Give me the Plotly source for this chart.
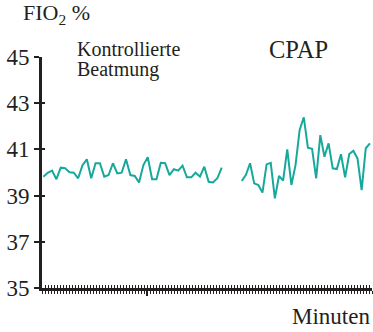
import numpy as np
import plotly.graph_objects as go

# Data (FIO2 % over minutes)
seg1_values = [39.82, 39.99, 40.08, 39.71, 40.21, 40.19, 40.01, 39.99, 39.75, 40.32,
               40.57, 39.75, 40.40, 40.40, 39.82, 39.89, 40.40, 39.96, 39.99, 40.57,
               39.89, 39.85, 39.57, 40.32, 40.66, 39.71, 39.71, 40.42, 40.40, 39.89,
               40.14, 40.08, 40.30, 39.79, 39.79, 39.99, 39.82, 40.25, 39.60, 39.57,
               39.75, 40.21]
seg2_values = [39.63, 39.90, 40.40, 39.53, 39.46, 39.13, 40.35, 40.42, 38.88, 39.85,
               39.65, 41.00, 39.46, 40.32, 41.84, 42.39, 41.07, 41.03, 39.75, 41.62,
               40.68, 41.26, 40.18, 40.15, 40.79, 39.79, 40.80, 40.94, 40.61, 39.24,
               41.05, 41.26]
seg1_start, seg1_end = 0.45, 59.9
seg2_start, seg2_end = 66.6, 109.3
y_ticks = [35, 37, 39, 41, 43, 45]
x_range = [0, 110]
y_range = [35, 45]

t1 = list(np.linspace(seg1_start, seg1_end, len(seg1_values)))
t2 = list(np.linspace(seg2_start, seg2_end, len(seg2_values)))
xs = t1 + [None] + t2
ys = seg1_values + [None] + seg2_values

TEXT = "#231f20"
TEAL = "#17a89c"
FONT = "Liberation Serif"

fig = go.Figure()
fig.add_trace(go.Scatter(x=xs, y=ys, mode="lines", line=dict(color=TEAL, width=2),
                         connectgaps=False, hoverinfo="skip"))
fig.add_trace(go.Scatter(x=[None], y=[None], xaxis="x2", yaxis="y2", showlegend=False))

fig.update_layout(
    width=373, height=332,
    margin=dict(l=42, r=1, t=57, b=44),
    paper_bgcolor="white", plot_bgcolor="white",
    showlegend=False,
    font=dict(family=FONT, color=TEXT, size=21),
    xaxis=dict(range=x_range, showgrid=False, zeroline=False, showline=True,
               linecolor=TEXT, linewidth=3, ticks="outside", tickvals=[35],
               ticklen=5, tickwidth=1.5, tickcolor=TEXT, showticklabels=False,
               minor=dict(dtick=1, tick0=0, ticks="outside", ticklen=3,
                          tickwidth=1, tickcolor=TEXT)),
    xaxis2=dict(range=x_range, overlaying="x", anchor="y", showgrid=False,
                zeroline=False, showline=False, ticks="inside", dtick=1, tick0=0,
                ticklen=3, tickwidth=1, tickcolor=TEXT, showticklabels=False),
    yaxis=dict(range=y_range, showgrid=False, zeroline=False, showline=True,
               linecolor=TEXT, linewidth=3, ticks="outside", tickvals=y_ticks,
               ticklen=5, tickwidth=1.5, tickcolor=TEXT,
               tickfont=dict(family=FONT, size=23, color=TEXT)),
    yaxis2=dict(range=y_range, overlaying="y", anchor="x", showgrid=False,
                zeroline=False, showline=False, ticks="inside", tickvals=y_ticks,
                ticklen=3, tickwidth=1.5, tickcolor=TEXT, showticklabels=False),
    annotations=[
        dict(text="FIO<sub>2</sub> %", x=-0.064, y=1.115, xref="paper", yref="paper",
             xanchor="left", yanchor="bottom", showarrow=False,
             font=dict(size=22)),
        dict(text="Kontrollierte", x=0.1, y=1.093, xref="paper", yref="paper",
             xanchor="left", yanchor="top", align="left", showarrow=False,
             font=dict(size=20)),
        dict(text="Beatmung", x=0.1, y=1.005, xref="paper", yref="paper",
             xanchor="left", yanchor="top", align="left", showarrow=False,
             font=dict(size=20)),
        dict(text="CPAP", x=0.683, y=1.1, xref="paper", yref="paper",
             xanchor="left", yanchor="top", showarrow=False, font=dict(size=24.5)),
        dict(text="Minuten", x=1.0, y=-0.062, xref="paper", yref="paper",
             xanchor="right", yanchor="top", showarrow=False, font=dict(size=23)),
    ],
)

fig.write_html("out.html")
